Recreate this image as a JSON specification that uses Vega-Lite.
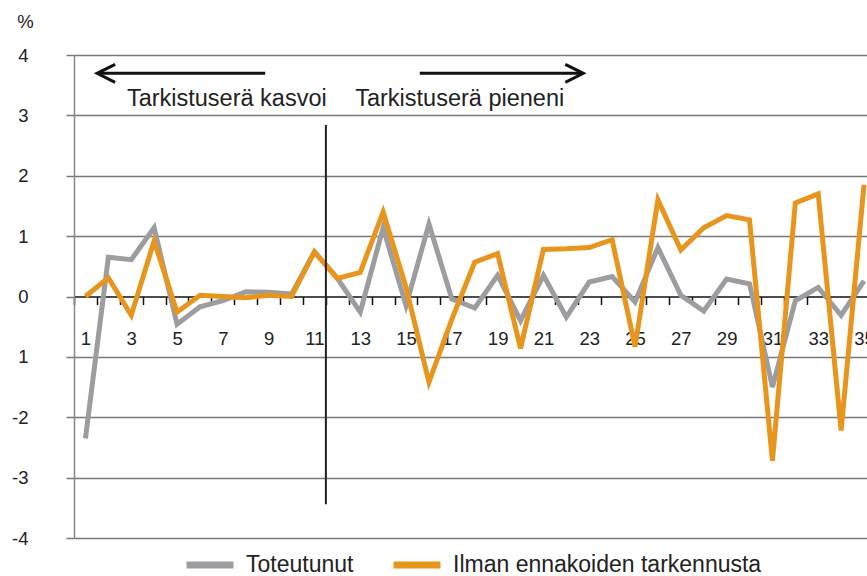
{
  "$schema": "https://vega.github.io/schema/vega-lite/v6.json",
  "width": 793,
  "height": 483,
  "autosize": {"type": "none"},
  "padding": {"left": 74, "top": 55, "right": 0, "bottom": 38},
  "config": {"view": {"stroke": null}, "font": "Liberation Sans"},
  "data": {"values": [
    {"t":1,"series":"Toteutunut","value":-2.35},{"t":2,"series":"Toteutunut","value":0.65},{"t":3,"series":"Toteutunut","value":0.61},{"t":4,"series":"Toteutunut","value":1.14},{"t":5,"series":"Toteutunut","value":-0.46},{"t":6,"series":"Toteutunut","value":-0.17},{"t":7,"series":"Toteutunut","value":-0.07},{"t":8,"series":"Toteutunut","value":0.08},{"t":9,"series":"Toteutunut","value":0.07},{"t":10,"series":"Toteutunut","value":0.04},{"t":11,"series":"Toteutunut","value":0.74},{"t":12,"series":"Toteutunut","value":0.3},{"t":13,"series":"Toteutunut","value":-0.26},{"t":14,"series":"Toteutunut","value":1.14},{"t":15,"series":"Toteutunut","value":-0.15},{"t":16,"series":"Toteutunut","value":1.2},{"t":17,"series":"Toteutunut","value":-0.04},{"t":18,"series":"Toteutunut","value":-0.19},{"t":19,"series":"Toteutunut","value":0.35},{"t":20,"series":"Toteutunut","value":-0.4},{"t":21,"series":"Toteutunut","value":0.35},{"t":22,"series":"Toteutunut","value":-0.34},{"t":23,"series":"Toteutunut","value":0.24},{"t":24,"series":"Toteutunut","value":0.33},{"t":25,"series":"Toteutunut","value":-0.09},{"t":26,"series":"Toteutunut","value":0.81},{"t":27,"series":"Toteutunut","value":0.02},{"t":28,"series":"Toteutunut","value":-0.24},{"t":29,"series":"Toteutunut","value":0.29},{"t":30,"series":"Toteutunut","value":0.21},{"t":31,"series":"Toteutunut","value":-1.5},{"t":32,"series":"Toteutunut","value":-0.07},{"t":33,"series":"Toteutunut","value":0.15},{"t":34,"series":"Toteutunut","value":-0.31},{"t":35,"series":"Toteutunut","value":0.26},
    {"t":1,"series":"Ilman ennakoiden tarkennusta","value":0.0},{"t":2,"series":"Ilman ennakoiden tarkennusta","value":0.31},{"t":3,"series":"Ilman ennakoiden tarkennusta","value":-0.31},{"t":4,"series":"Ilman ennakoiden tarkennusta","value":0.92},{"t":5,"series":"Ilman ennakoiden tarkennusta","value":-0.26},{"t":6,"series":"Ilman ennakoiden tarkennusta","value":0.02},{"t":7,"series":"Ilman ennakoiden tarkennusta","value":0.0},{"t":8,"series":"Ilman ennakoiden tarkennusta","value":-0.02},{"t":9,"series":"Ilman ennakoiden tarkennusta","value":0.02},{"t":10,"series":"Ilman ennakoiden tarkennusta","value":0.0},{"t":11,"series":"Ilman ennakoiden tarkennusta","value":0.74},{"t":12,"series":"Ilman ennakoiden tarkennusta","value":0.3},{"t":13,"series":"Ilman ennakoiden tarkennusta","value":0.4},{"t":14,"series":"Ilman ennakoiden tarkennusta","value":1.4},{"t":15,"series":"Ilman ennakoiden tarkennusta","value":0.15},{"t":16,"series":"Ilman ennakoiden tarkennusta","value":-1.42},{"t":17,"series":"Ilman ennakoiden tarkennusta","value":-0.38},{"t":18,"series":"Ilman ennakoiden tarkennusta","value":0.57},{"t":19,"series":"Ilman ennakoiden tarkennusta","value":0.71},{"t":20,"series":"Ilman ennakoiden tarkennusta","value":-0.86},{"t":21,"series":"Ilman ennakoiden tarkennusta","value":0.78},{"t":22,"series":"Ilman ennakoiden tarkennusta","value":0.79},{"t":23,"series":"Ilman ennakoiden tarkennusta","value":0.81},{"t":24,"series":"Ilman ennakoiden tarkennusta","value":0.94},{"t":25,"series":"Ilman ennakoiden tarkennusta","value":-0.83},{"t":26,"series":"Ilman ennakoiden tarkennusta","value":1.6},{"t":27,"series":"Ilman ennakoiden tarkennusta","value":0.77},{"t":28,"series":"Ilman ennakoiden tarkennusta","value":1.14},{"t":29,"series":"Ilman ennakoiden tarkennusta","value":1.34},{"t":30,"series":"Ilman ennakoiden tarkennusta","value":1.27},{"t":31,"series":"Ilman ennakoiden tarkennusta","value":-2.72},{"t":32,"series":"Ilman ennakoiden tarkennusta","value":1.55},{"t":33,"series":"Ilman ennakoiden tarkennusta","value":1.7},{"t":34,"series":"Ilman ennakoiden tarkennusta","value":-2.22},{"t":35,"series":"Ilman ennakoiden tarkennusta","value":1.85}
  ]},
  "layer": [
    {
      "transform": [{"filter": "datum.series === 'Toteutunut'"}],
      "mark": {"type": "line", "strokeWidth": 5, "clip": true},
      "encoding": {
        "x": {"field": "t", "type": "quantitative",
          "scale": {"domain": [0.5, 35.13], "nice": false, "zero": false},
          "axis": {
            "orient": "bottom", "offset": -241.5, "title": null, "grid": false,
            "values": [0.5,1,1.5,2,2.5,3,3.5,4,4.5,5,5.5,6,6.5,7,7.5,8,8.5,9,9.5,10,10.5,11,11.5,12,12.5,13,13.5,14,14.5,15,15.5,16,16.5,17,17.5,18,18.5,19,19.5,20,20.5,21,21.5,22,22.5,23,23.5,24,24.5,25,25.5,26,26.5,27,27.5,28,28.5,29,29.5,30,30.5,31,31.5,32,32.5,33,33.5,34,34.5,35,35.5],
            "tickCount": 200,
            "domainColor": "#111", "domainWidth": 1.5,
            "tickColor": "#111", "tickWidth": 1.5, "tickSize": 8,
            "tickOpacity": {"condition": {"test": "datum.value % 1 === 0", "value": 0}, "value": 1},
            "labelExpr": "datum.value % 2 === 1 ? ('' + datum.value) : ''",
            "labelPadding": 25, "labelFontSize": 18.5, "labelColor": "#222",
            "labelOverlap": false, "labelFlush": false, "labelBound": false
          }
        },
        "y": {"field": "value", "type": "quantitative",
          "scale": {"domain": [-4, 4], "nice": false, "zero": false},
          "axis": {
            "values": [-4,-3,-2,-1,0,1,2,3,4],
            "grid": true, "gridColor": "#787878", "gridWidth": 1.5,
            "gridOpacity": {"condition": {"test": "datum.value === 0", "value": 0}, "value": 1},
            "domainColor": "#888", "domainWidth": 1.5,
            "tickColor": "#787878", "tickWidth": 1.5, "tickSize": 8,
            "labelPadding": 38, "labelFontSize": 18.5, "labelColor": "#222",
            "labelExpr": "datum.value === -1 ? '1' : (datum.value < 0 ? '-' + abs(datum.value) : '' + datum.value)",
            "title": "%", "titleAngle": 0, "titleX": -49, "titleY": -34,
            "titleAlign": "center", "titleBaseline": "middle",
            "titleFontWeight": "normal", "titleFontSize": 18.5, "titleColor": "#222"
          }
        },
        "color": {"field": "series", "type": "nominal",
          "scale": {"domain": ["Toteutunut", "Ilman ennakoiden tarkennusta"], "range": ["#9c9da1", "#e8951d"]},
          "legend": {
            "orient": "none", "legendX": 109, "legendY": 483, "direction": "horizontal",
            "title": null, "padding": 0,
            "symbolType": "stroke", "symbolStrokeWidth": 7, "symbolSize": 2209,
            "labelFontSize": 23, "labelColor": "#222", "labelOffset": 9,
            "labelLimit": 400, "columnPadding": 25
          }
        }
      }
    },
    {
      "transform": [{"filter": "datum.series !== 'Toteutunut'"}],
      "mark": {"type": "line", "strokeWidth": 5, "clip": true},
      "encoding": {
        "x": {"field": "t", "type": "quantitative"},
        "y": {"field": "value", "type": "quantitative"},
        "color": {"field": "series", "type": "nominal"}
      }
    },
    {
      "data": {"values": [{}]},
      "mark": {"type": "rule", "color": "#222", "strokeWidth": 2},
      "encoding": {
        "x": {"datum": 11.5, "type": "quantitative"},
        "y": {"datum": 2.84, "type": "quantitative"},
        "y2": {"datum": -3.44}
      }
    },
    {
      "data": {"values": [{}]},
      "mark": {"type": "rule", "color": "#111", "strokeWidth": 3},
      "encoding": {
        "x": {"datum": 1.55, "type": "quantitative"},
        "x2": {"datum": 8.85},
        "y": {"datum": 3.697, "type": "quantitative"}
      }
    },
    {
      "data": {"values": [{}]},
      "mark": {"type": "rule", "color": "#111", "strokeWidth": 3},
      "encoding": {
        "x": {"datum": 15.6, "type": "quantitative"},
        "x2": {"datum": 22.7},
        "y": {"datum": 3.697, "type": "quantitative"}
      }
    },
    {
      "data": {"values": [{}]},
      "mark": {"type": "point", "shape": "M 2 -1 L 0 0 L 2 1", "filled": false, "stroke": "#111", "strokeWidth": 3, "size": 324, "opacity": 1},
      "encoding": {
        "x": {"datum": 1.51, "type": "quantitative"},
        "y": {"datum": 3.697, "type": "quantitative"}
      }
    },
    {
      "data": {"values": [{}]},
      "mark": {"type": "point", "shape": "M -2 -1 L 0 0 L -2 1", "filled": false, "stroke": "#111", "strokeWidth": 3, "size": 324, "opacity": 1},
      "encoding": {
        "x": {"datum": 22.74, "type": "quantitative"},
        "y": {"datum": 3.697, "type": "quantitative"}
      }
    },
    {
      "data": {"values": [{}]},
      "mark": {"type": "text", "text": "Tarkistuserä kasvoi", "align": "left", "baseline": "alphabetic", "fontSize": 23.5, "color": "#222"},
      "encoding": {
        "x": {"datum": 2.81, "type": "quantitative"},
        "y": {"datum": 3.16, "type": "quantitative"}
      }
    },
    {
      "data": {"values": [{}]},
      "mark": {"type": "text", "text": "Tarkistuserä pieneni", "align": "left", "baseline": "alphabetic", "fontSize": 23.5, "color": "#222"},
      "encoding": {
        "x": {"datum": 12.78, "type": "quantitative"},
        "y": {"datum": 3.16, "type": "quantitative"}
      }
    }
  ]
}
